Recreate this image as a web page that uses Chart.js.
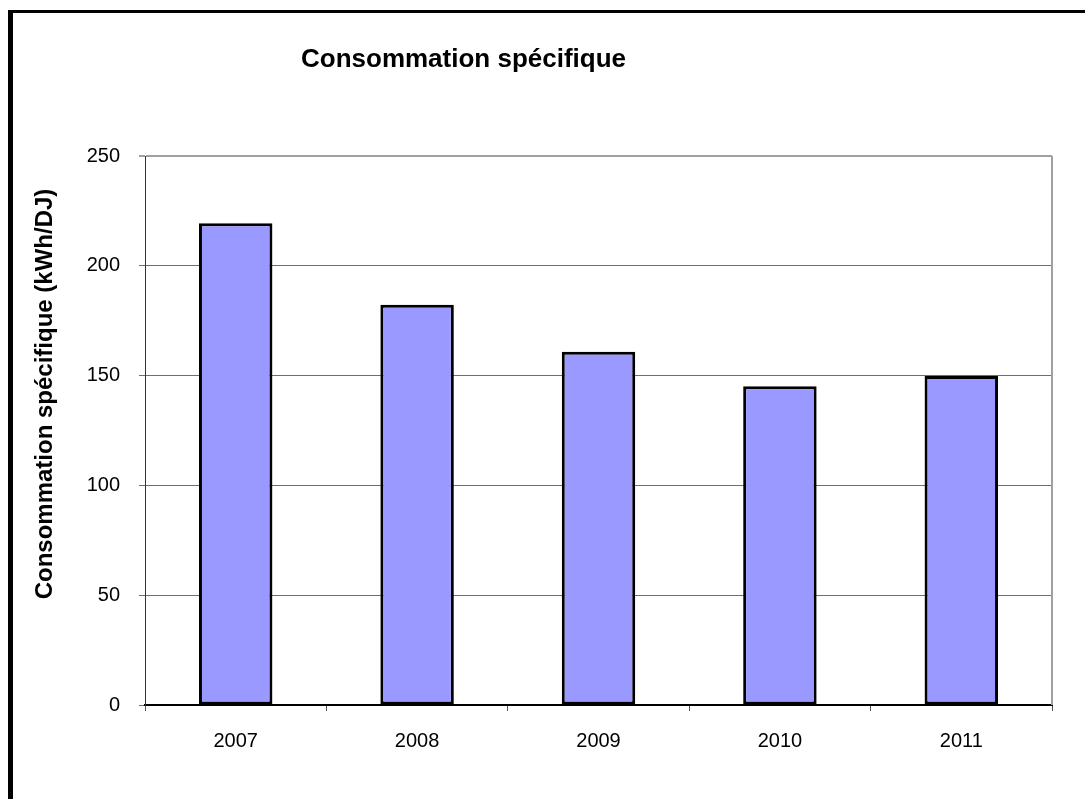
<!DOCTYPE html>
<html>
<head>
<meta charset="utf-8">
<script src="https://cdn.jsdelivr.net/npm/chart.js@4/dist/chart.umd.min.js"></script>
<style>
  html, body { margin: 0; padding: 0; background: #fff; overflow: hidden; }
  #wrap { position: relative; width: 1085px; height: 799px; }
  #frame {
    position: absolute; left: 8px; top: 10px; width: 2000px; height: 2000px;
    border-top: 3px solid #000; border-left: 5px solid #000; pointer-events: none;
  }
</style>
</head>
<body>
<div id="wrap">
  <canvas id="consoChart"></canvas>
  <div id="frame"></div>
</div>
<script>
const years = ['2007', '2008', '2009', '2010', '2011'];
const consommation = [219.4, 182.3, 160.9, 145.1, 149.8];
const yTicks = [0, 50, 100, 150, 200, 250];

const chartTitle = 'Consommation spécifique';
const yTitle = 'Consommation spécifique (kWh/DJ)';
const FONT = '"Liberation Sans", Arial, sans-serif';

// titles are placed like the original (not centred on the plot)
const textPlugin = {
    id: 'textPlugin',
    afterDraw(chart) {
        const ctx = chart.ctx;
        const area = chart.chartArea;
        ctx.save();
        // right border of plot area
        ctx.strokeStyle = '#a0a0a0';
        ctx.lineWidth = 2;
        ctx.beginPath();
        ctx.moveTo(area.right, area.top);
        ctx.lineTo(area.right, area.bottom);
        ctx.stroke();

        ctx.fillStyle = '#000';
        ctx.font = 'bold 26px ' + FONT;
        ctx.textAlign = 'left';
        ctx.textBaseline = 'alphabetic';
        ctx.fillText(chartTitle, 301, 67);

        ctx.font = 'bold 24px ' + FONT;
        ctx.translate(52, 394);
        ctx.rotate(-Math.PI / 2);
        ctx.textAlign = 'center';
        ctx.fillText(yTitle, 0, 0);
        ctx.restore();
    }
};

const ctx = document.getElementById('consoChart').getContext('2d');

new Chart(ctx, {
    type: 'bar',
    data: {
        labels: years,
        datasets: [{
            label: chartTitle,
            data: consommation,
            backgroundColor: '#9999ff',
            borderColor: '#000',
            borderWidth: 3,
            borderSkipped: false,
            barPercentage: 0.405,
            categoryPercentage: 1.0
        }]
    },
    options: {
        responsive: true,
        maintainAspectRatio: false,
        animation: false,
        devicePixelRatio: 1,
        layout: {
            padding: { left: 0, top: 156, right: 33, bottom: 0 }
        },
        plugins: {
            legend: { display: false },
            title: { display: false },
            tooltip: { enabled: false }
        },
        scales: {
            x: {
                offset: true,
                afterFit: function(scale) { scale.height = 94; },
                grid: {
                    offset: true,
                    drawOnChartArea: false,
                    drawTicks: true,
                    tickLength: 6,
                    color: '#555'
                },
                border: { color: '#000', width: 2 },
                ticks: {
                    color: '#000',
                    padding: 18,
                    font: { family: FONT, size: 20 }
                }
            },
            y: {
                min: 0,
                max: 250,
                afterFit: function(scale) { scale.width = 145; },
                afterBuildTicks: function(scale) {
                    scale.ticks = yTicks.map(v => ({ value: v }));
                },
                grid: {
                    color: function(c) { return c.tick && c.tick.value === 250 ? '#a0a0a0' : '#6e6e6e'; },
                    lineWidth: function(c) { return c.tick && c.tick.value === 250 ? 2 : 1; },
                    tickLength: 6
                },
                border: { color: '#333', width: 1 },
                ticks: {
                    color: '#000',
                    padding: 19,
                    font: { family: FONT, size: 20 }
                }
            }
        }
    },
    plugins: [textPlugin]
});
</script>
</body>
</html>
